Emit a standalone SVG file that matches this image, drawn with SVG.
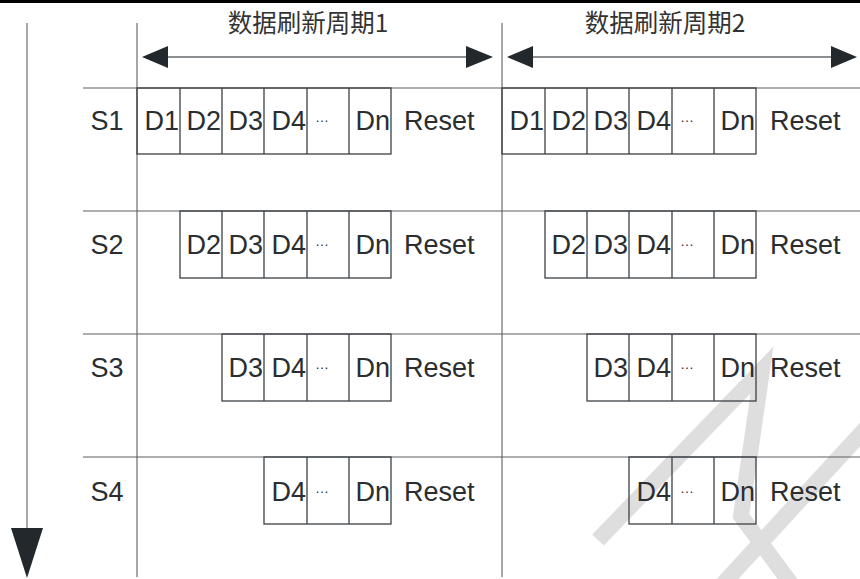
<svg xmlns="http://www.w3.org/2000/svg" width="860" height="579" viewBox="0 0 860 579">
<style>
.wm{fill:none;stroke:#dedede;stroke-width:16;stroke-linejoin:miter;stroke-linecap:butt}
.grid{stroke:#5a5e62;stroke-width:1.1;fill:none}
.box{fill:none;stroke:#3c4146;stroke-width:1.3}
.arr{stroke:#666a6e;stroke-width:1.3;fill:none}
.head{fill:#23282d}
.t{font-family:"Liberation Sans",Arial,sans-serif;font-size:27px;fill:#2b2e31}
.d{text-anchor:end}
.s{text-anchor:middle}
.dots{font-family:"Liberation Sans",Arial,sans-serif;font-size:14px;fill:#2b2e31;text-anchor:middle}
.title{font-family:"Noto Sans CJK SC","Liberation Sans",sans-serif;font-size:24.5px;fill:#333;text-anchor:middle}
</style>
<g id="watermark">
<polyline class="wm" points="598,540 762,370 741,516 792,585"/>
<line class="wm" x1="866" y1="428" x2="722" y2="585"/>
</g>
<rect x="0" y="0" width="860" height="3" fill="#000"/>
<g id="connectors">
<line class="grid" x1="137" y1="23" x2="137" y2="577"/>
<line class="grid" x1="502" y1="23" x2="502" y2="577"/>
<line class="grid" x1="83" y1="88" x2="860" y2="88"/>
<line class="grid" x1="83" y1="211" x2="860" y2="211"/>
<line class="grid" x1="83" y1="334" x2="860" y2="334"/>
<line class="grid" x1="83" y1="457" x2="860" y2="457"/>
<line class="grid" x1="27" y1="23" x2="27" y2="530"/>
<polygon class="head" points="11,528 43,528 27,578"/>
<line class="arr" x1="160" y1="57" x2="475" y2="57"/>
<polygon class="head" points="142,57 168,46 168,68"/>
<polygon class="head" points="493,57 466,46 466,68"/>
<line class="arr" x1="525" y1="57" x2="840" y2="57"/>
<polygon class="head" points="507,57 533,46 533,68"/>
<polygon class="head" points="857,57 831,46 831,68"/>
</g>
<g id="titles">
<text class="title" x="308" y="32">数据刷新周期1</text>
<text class="title" x="665" y="32">数据刷新周期2</text>
</g>
<g id="S1">
<text class="t s" x="107" y="130">S1</text>
<rect class="box" x="137" y="88" width="254" height="66"/>
<path class="box" d="M180 88V154M222 88V154M264 88V154M307 88V154M349 88V154"/>
<text class="t d" x="179" y="130">D1</text>
<text class="t d" x="221" y="130">D2</text>
<text class="t d" x="263" y="130">D3</text>
<text class="t d" x="306" y="130">D4</text>
<text class="dots" x="322" y="122">…</text>
<text class="t d" x="390" y="130">Dn</text>
<text class="t" x="404" y="130">Reset</text>
<rect class="box" x="502" y="88" width="254" height="66"/>
<path class="box" d="M545 88V154M587 88V154M629 88V154M672 88V154M714 88V154"/>
<text class="t d" x="544" y="130">D1</text>
<text class="t d" x="586" y="130">D2</text>
<text class="t d" x="628" y="130">D3</text>
<text class="t d" x="671" y="130">D4</text>
<text class="dots" x="687" y="122">…</text>
<text class="t d" x="755" y="130">Dn</text>
<text class="t" x="770" y="130">Reset</text>
</g>
<g id="S2">
<text class="t s" x="107" y="254">S2</text>
<rect class="box" x="180" y="211" width="211" height="67"/>
<path class="box" d="M222 211V278M264 211V278M307 211V278M349 211V278"/>
<text class="t d" x="221" y="254">D2</text>
<text class="t d" x="263" y="254">D3</text>
<text class="t d" x="306" y="254">D4</text>
<text class="dots" x="322" y="246">…</text>
<text class="t d" x="390" y="254">Dn</text>
<text class="t" x="404" y="254">Reset</text>
<rect class="box" x="545" y="211" width="211" height="67"/>
<path class="box" d="M587 211V278M629 211V278M672 211V278M714 211V278"/>
<text class="t d" x="586" y="254">D2</text>
<text class="t d" x="628" y="254">D3</text>
<text class="t d" x="671" y="254">D4</text>
<text class="dots" x="687" y="246">…</text>
<text class="t d" x="755" y="254">Dn</text>
<text class="t" x="770" y="254">Reset</text>
</g>
<g id="S3">
<text class="t s" x="107" y="377">S3</text>
<rect class="box" x="222" y="334" width="169" height="67"/>
<path class="box" d="M264 334V401M307 334V401M349 334V401"/>
<text class="t d" x="263" y="377">D3</text>
<text class="t d" x="306" y="377">D4</text>
<text class="dots" x="322" y="369">…</text>
<text class="t d" x="390" y="377">Dn</text>
<text class="t" x="404" y="377">Reset</text>
<rect class="box" x="587" y="334" width="169" height="67"/>
<path class="box" d="M629 334V401M672 334V401M714 334V401"/>
<text class="t d" x="628" y="377">D3</text>
<text class="t d" x="671" y="377">D4</text>
<text class="dots" x="687" y="369">…</text>
<text class="t d" x="755" y="377">Dn</text>
<text class="t" x="770" y="377">Reset</text>
</g>
<g id="S4">
<text class="t s" x="107" y="501">S4</text>
<rect class="box" x="264" y="457" width="127" height="67"/>
<path class="box" d="M307 457V524M349 457V524"/>
<text class="t d" x="306" y="501">D4</text>
<text class="dots" x="322" y="493">…</text>
<text class="t d" x="390" y="501">Dn</text>
<text class="t" x="404" y="501">Reset</text>
<rect class="box" x="629" y="457" width="127" height="67"/>
<path class="box" d="M672 457V524M714 457V524"/>
<text class="t d" x="671" y="501">D4</text>
<text class="dots" x="687" y="493">…</text>
<text class="t d" x="755" y="501">Dn</text>
<text class="t" x="770" y="501">Reset</text>
</g>
</svg>
